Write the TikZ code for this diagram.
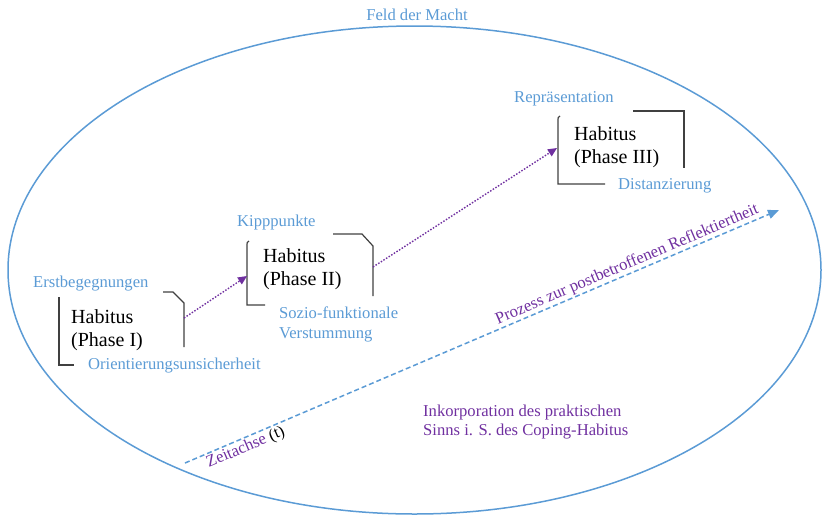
\documentclass[tikz,border=0pt]{standalone}
\usepackage{fontspec}
\setmainfont{Liberation Serif}
\usetikzlibrary{arrows.meta}
\definecolor{eblue}{HTML}{5B9BD5}
\definecolor{pur}{HTML}{7030A0}
\definecolor{brk}{HTML}{404040}
\begin{document}
\begin{tikzpicture}[x=1pt,y=-1pt,
  hab/.style={font=\fontsize{20}{23}\selectfont, align=left, anchor=north west, inner sep=0pt, text=black},
  lbl/.style={font=\fontsize{16.6}{19.5}\selectfont, text=eblue, inner sep=0pt},
  bracket/.style={draw=brk, line width=1.2pt},
  phase/.style={draw=pur, line width=1.4pt, dash pattern=on 1.5pt off 1.6pt, -{Triangle[length=9pt,width=8pt]}},
  axis/.style={draw=eblue, line width=1.5pt, dash pattern=on 5pt off 3pt, -{Triangle[length=11pt,width=9pt]}}
]
\useasboundingbox (0,0) rectangle (822,515);
% field
\draw[eblue, line width=1.5pt] (414.5,270) ellipse [x radius=406.5, y radius=244];
\node[lbl, anchor=base] (feld) at (417,20.5) {Feld der Macht};

% box I
\draw[bracket] (59,297) -- (59,365) -- (74,365);
\draw[bracket] (163,292) -- (173,292) -- (184,303) -- (184,347);
\node[hab] (h1) at (71,309) {Habitus\\(Phase I)};
\node[lbl, anchor=base west] (erst) at (33,287) {Erstbegegnungen};
\node[lbl, anchor=base west] (orient) at (88,369) {Orientierungsunsicherheit};
\coordinate (a1s) at (184,318);
\coordinate (a1e) at (247,276);

% box II
\draw[bracket] (249,241) .. controls (247,242) .. (247,247) -- (247,305) -- (265,305);
\draw[bracket] (333,234) -- (362,234) -- (373,246) -- (373,296);
\node[hab] (h2) at (263,248) {Habitus\\(Phase II)};
\node[lbl, anchor=base west] (kipp) at (237,226) {Kipppunkte};
\node[lbl, anchor=north west, align=left] (sozio) at (279,306.7) {Sozio-funktionale\\Verstummung};
\coordinate (a2s) at (373,267);
\coordinate (a2e) at (557,148);

% box III
\draw[bracket] (560,116) .. controls (558,117) .. (558,122) -- (558,184) -- (605,184);
\draw[bracket] (633,111) -- (684,111) -- (684,168);
\node[hab] (h3) at (574,126) {Habitus\\(Phase III)};
\node[lbl, anchor=base west] (rep) at (514,102) {Repräsentation};
\node[lbl, anchor=base west] (dist) at (618,189) {Distanzierung};

% phase arrows
\draw[phase] (a1s) -- (a1e);
\draw[phase] (a2s) -- (a2e);

% time axis
\coordinate (ts) at (185,463);
\coordinate (te) at (779,210);
\draw[axis] (ts) -- (te);
\path (ts) -- (te)
  node[lbl, pos=0.031, sloped, anchor=north west, inner xsep=0pt, inner ysep=2pt] (zeit) {\textcolor{pur}{Zeitachse} \textcolor{black}{(t)}}
  node[lbl, text=pur, pos=0.53, sloped, anchor=base west, inner sep=0pt] (proz) {\raisebox{5pt}{Prozess zur postbetroffenen Reflektiertheit}};

\node[lbl, text=pur, anchor=north west, align=left] (ink) at (423,404.7) {Inkorporation des praktischen\\Sinns i. S. des Coping-Habitus};
\end{tikzpicture}
\end{document}
